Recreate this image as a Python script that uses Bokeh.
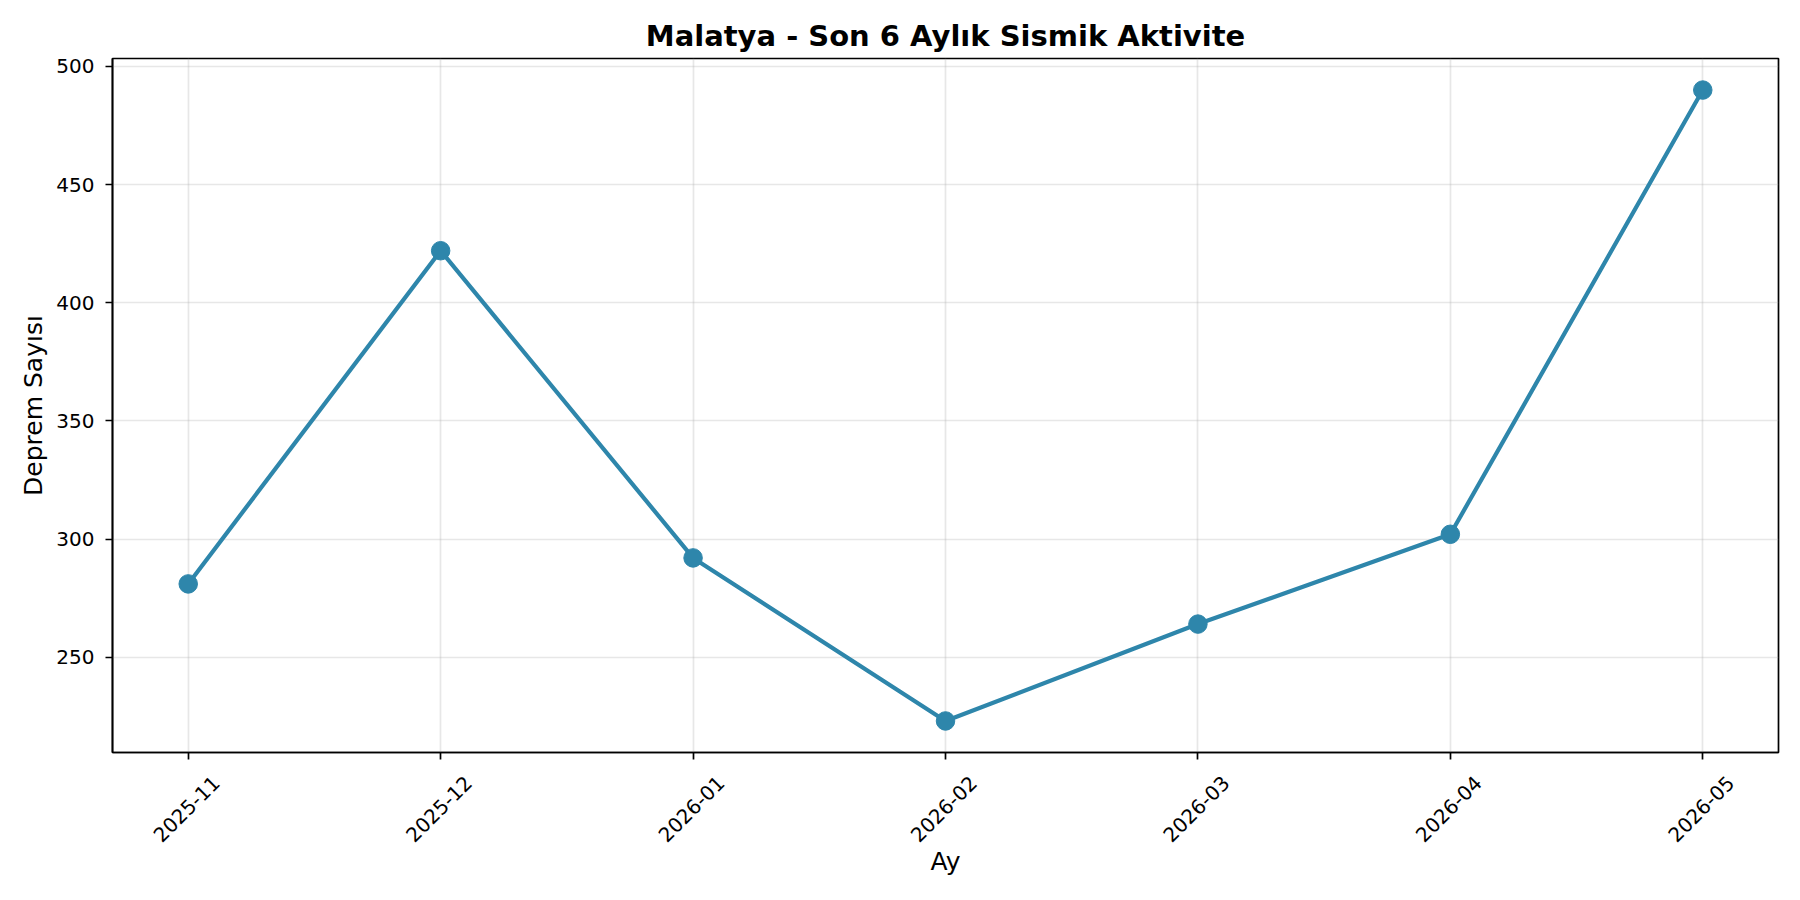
import math
from bokeh.plotting import figure
from bokeh.models import ColumnDataSource, FixedTicker, Range1d, LinearAxis
from bokeh.embed import file_html
from bokeh.resources import INLINE

months = ["2025-11", "2025-12", "2026-01", "2026-02", "2026-03", "2026-04", "2026-05"]
counts = [281, 422, 292, 223, 264, 302, 490]
y_ticks = [250, 300, 350, 400, 450, 500]

title_text = "Malatya - Son 6 Aylık Sismik Aktivite"
x_label = "Ay"
y_label = "Deprem Sayısı"
color = "#2E86AB"
font = "DejaVu Sans"

idx = list(range(len(months)))
src = ColumnDataSource(dict(x=idx, y=counts))

FRAME_W, FRAME_H = 1666, 694

# matplotlib-like 5% margins
ymin, ymax = min(counts), max(counts)
ypad = (ymax - ymin) * 0.05
xpad = (len(months) - 1) * 0.05
x_start, x_end = -xpad, len(months) - 1 + xpad

p = figure(
    width=1792, height=892,
    frame_width=FRAME_W, frame_height=FRAME_H,
    min_border_left=112, min_border_right=14, min_border_top=58, min_border_bottom=140,
    x_range=Range1d(x_start, x_end),
    y_range=Range1d(ymin - ypad, ymax + ypad),
    output_backend="svg", toolbar_location=None,
    title=title_text,
)

p.title.text_font = font
p.title.text_font_size = "29px"
p.title.text_font_style = "bold"
p.title.align = "center"
p.title.text_color = "black"
p.title.standoff = 12

p.line("x", "y", source=src, line_color=color, line_width=4.2)
p.scatter("x", "y", source=src, size=18.5, fill_color=color, line_color=color)

# Rotated tick labels centred under their ticks (matplotlib style): a label-only axis on a
# range shifted by ~28 px, so that Bokeh's end-anchored rotated labels sit centred on the ticks.
shift = 28 * (x_end - x_start) / FRAME_W
p.extra_x_ranges = {"labels": Range1d(x_start - shift, x_end - shift)}
label_axis = LinearAxis(x_range_name="labels")
p.add_layout(label_axis, "below")

p.xaxis.ticker = FixedTicker(ticks=idx)
p.yaxis.ticker = FixedTicker(ticks=y_ticks)

for ax in (p.xaxis + p.yaxis):
    ax.major_label_text_font = font
    ax.major_label_text_font_size = "20px"
    ax.major_label_text_color = "black"
    ax.axis_label_text_font = font
    ax.axis_label_text_font_size = "25px"
    ax.axis_label_text_font_style = "normal"
    ax.axis_label_text_color = "black"
    ax.axis_line_color = "black"
    ax.axis_line_width = 1.7
    ax.major_tick_line_color = "black"
    ax.major_tick_line_width = 1.7
    ax.major_tick_out = 7
    ax.major_tick_in = 0
    ax.minor_tick_line_color = None
    ax.major_label_standoff = 8

main_x = p.below[0]
main_x.major_label_overrides = {i: "" for i in idx}
main_x.major_label_text_color = None
main_x.major_label_standoff = 0

label_axis.major_label_overrides = {i: m for i, m in zip(idx, months)}
label_axis.major_label_orientation = math.pi / 4
label_axis.axis_line_color = None
label_axis.major_tick_line_color = None
label_axis.major_tick_out = 0
label_axis.major_label_standoff = 20
label_axis.axis_label = x_label
label_axis.axis_label_standoff = -4

p.yaxis.major_label_standoff = 11
p.yaxis.axis_label = y_label
p.yaxis.axis_label_standoff = 5

p.xgrid.ticker = FixedTicker(ticks=idx)
p.ygrid.ticker = FixedTicker(ticks=y_ticks)
for g in (p.xgrid + p.ygrid):
    g.grid_line_color = "#b0b0b0"
    g.grid_line_alpha = 0.3
    g.grid_line_width = 1.7

p.outline_line_color = "black"
p.outline_line_width = 1.7
p.outline_line_alpha = 1.0
p.background_fill_color = "white"
p.border_fill_color = "white"

open("out.html", "w").write(file_html(p, INLINE))
